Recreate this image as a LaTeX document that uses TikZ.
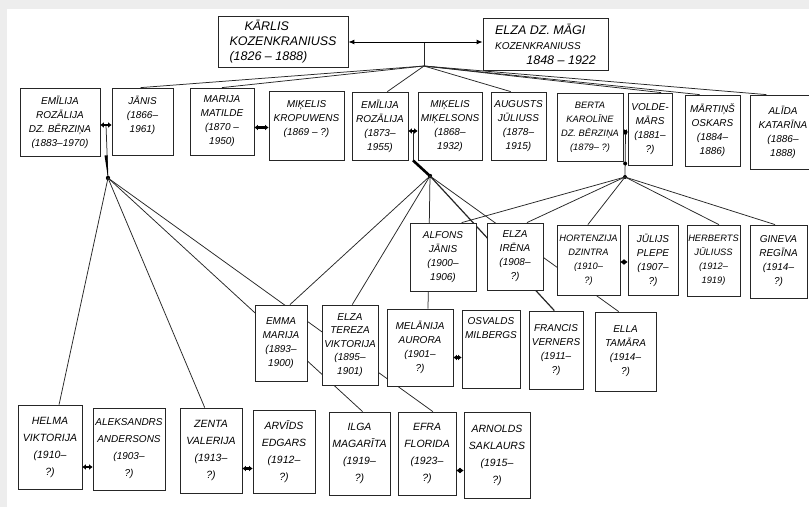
\documentclass[tikz,border=0pt]{standalone}
\usepackage{fontspec}
\setmainfont{Liberation Sans}
\usetikzlibrary{arrows.meta,calc}
\pgfdeclarelayer{paper}
\pgfdeclarelayer{bg}
\pgfsetlayers{paper,bg,main}
\tikzset{
  pbox/.style={draw=black!85, line width=0.8pt, fill=white, inner sep=1pt, align=center,
    font=\itshape\fontsize{10}{14}\selectfont},
  smallf/.style={font=\itshape\fontsize{9.3}{14}\selectfont},
  bigf/.style={font=\itshape\fontsize{10.5}{17}\selectfont},
  kid/.style={draw=black!85, line width=0.75pt},
  marr/.style={line width=2.2pt, {Latex[length=3.5pt,width=6pt]}-{Latex[length=3.5pt,width=6pt]}},
  toparr/.style={line width=0.9pt, {Latex[length=6pt,width=5pt]}-{Latex[length=6pt,width=5pt]}},
  jdot/.style={fill=black},
}
\newcommand\pb[7][]{%
  \node[pbox,minimum width={(#4-#2)*1pt},minimum height={(#5-#3)*1pt},#1] (#6) at ({(#2+#4)/2},{(#3+#5)/2}) {#7};}
\begin{document}
\begin{tikzpicture}[x=1pt,y=-1pt]
\useasboundingbox (0,0) rectangle (809,507);
\begin{pgfonlayer}{paper}
\fill[gray!14] (0,0) rectangle (809,507);
\fill[white] (7,9) rectangle (809,507);
\end{pgfonlayer}

% ---- generation 1
\pb[align=left,font=\itshape\fontsize{12.5}{15}\selectfont]{218}{16}{348}{67}{karlis}{\hspace*{1.2em}KĀRLIS\\KOZENKRANIUSS\\(1826 – 1888)}
\pb[align=left,font=\itshape\fontsize{12.5}{15}\selectfont]{483}{18}{608}{70}{elzam}{ELZA DZ. MĀGI\\{\fontsize{10}{12}\selectfont KOZENKRANIUSS}\\\hspace*{2.5em}1848 – 1922}

% ---- generation 2
\pb{20}{88}{100}{156}{emilijaB}{EMĪLIJA\\ROZĀLIJA\\DZ. BĒRZIŅA\\(1883–1970)}
\pb{112}{88}{173}{155}{janis}{JĀNIS\\(1866–\\1961)\\~}
\pb{190}{88}{254}{155}{marija}{MARIJA\\MATILDE\\(1870 –\\1950)}
\pb{269}{91}{344}{160}{mikelisK}{MIĶELIS\\KROPUWENS\\(1869 – ?)\\~}
\pb{352}{92}{408}{160}{emilijaR}{EMĪLIJA\\ROZĀLIJA\\(1873–\\1955)}
\pb{418}{92}{482}{160}{mikelisM}{MIĶELIS\\MIĶELSONS\\(1868–\\1932)}
\pb{491}{92}{546}{160}{augusts}{AUGUSTS\\JŪLIUSS\\(1878–\\1915)}
\pb[smallf]{557}{93}{623}{161}{berta}{BERTA\\KAROLĪNE\\DZ. BĒRZIŅA\\(1879– ?)}
\pb{628}{93}{672}{165}{voldemars}{VOLDE-\\MĀRS\\(1881–\\?)}
\pb{685}{95}{740}{166}{martins}{MĀRTIŅŠ\\OSKARS\\(1884–\\1886)}
\pb{750}{95}{816}{169}{alida}{ALĪDA\\KATARĪNA\\(1886–\\1888)}

% ---- generation 3 (upper)
\pb{410}{223}{476}{291}{alfons}{ALFONS\\JĀNIS\\(1900–\\1906)}
\pb{487}{223}{543}{290}{elzaI}{ELZA\\IRĒNA\\(1908–\\?)}
\pb[smallf]{557}{225}{620}{295}{hortenzija}{HORTENZIJA\\DZINTRA\\(1910–\\?)}
\pb{628}{225}{678}{295}{julijs}{JŪLIJS\\PLEPE\\(1907–\\?)}
\pb[smallf]{687}{225}{740}{296}{herberts}{HERBERTS\\JŪLIUSS\\(1912–\\1919)}
\pb{750}{225}{807}{298}{gineva}{GINEVA\\REGĪNA\\(1914–\\?)}

% ---- generation 3 (lower)
\pb{255}{305}{307}{381}{emma}{EMMA\\MARIJA\\(1893–\\1900)}
\pb[font=\itshape\fontsize{10}{13.5}\selectfont]{322}{305}{378}{385}{elzaT}{ELZA\\TEREZA\\VIKTORIJA\\(1895–\\1901)}
\pb{387}{309}{453}{386}{melanija}{MELĀNIJA\\AURORA\\(1901–\\?)}
\pb{462}{310}{520}{388}{osvalds}{OSVALDS\\MILBERGS\\~\\~\\~}
\pb{529}{311}{583}{389}{francis}{FRANCIS\\VERNERS\\(1911–\\?)}
\pb{595}{312}{656}{391}{ella}{ELLA\\TAMĀRA\\(1914–\\?)}

% ---- generation 4
\pb[bigf]{18}{405}{82}{489}{helma}{HELMA\\VIKTORIJA\\(1910–\\?)}
\pb[font=\itshape\fontsize{10}{17}\selectfont]{93}{408}{165}{490}{aleks}{ALEKSANDRS\\ANDERSONS\\(1903–\\?)}
\pb[bigf]{180}{408}{242}{493}{zenta}{ZENTA\\VALERIJA\\(1913–\\?)}
\pb[bigf]{253}{410}{315}{493}{arvids}{ARVĪDS\\EDGARS\\(1912–\\?)}
\pb[bigf]{329}{412}{390}{495}{ilga}{ILGA\\MAGARĪTA\\(1919–\\?)}
\pb[bigf]{398}{412}{456}{495}{efra}{EFRA\\FLORIDA\\(1923–\\?)}
\pb[bigf]{464}{412}{530}{498}{arnolds}{ARNOLDS\\SAKLAURS\\(1915–\\?)}

% ---- marriages
\draw[toparr] (karlis.east |- 0,42) -- (elzam.west |- 0,42);
\coordinate (mT) at (424,42);
\coordinate (jT) at (424,66);
\draw[marr] ([yshift=-3pt]emilijaB.east) -- ([yshift=-3pt]emilijaB.east -| janis.west);
\draw[marr] ([yshift=-6pt]marija.east) -- ([yshift=-6pt]marija.east -| mikelisK.west);
\draw[marr] ([yshift=-5pt]emilijaR.east) -- ([yshift=-5pt]emilijaR.east -| mikelisM.west);
\draw[marr] ([yshift=-5pt]berta.east) -- ([yshift=-5pt]berta.east -| voldemars.west);
\draw[marr] ([yshift=-2pt]hortenzija.east) -- ([yshift=-2pt]hortenzija.east -| julijs.west);
\draw[marr] ([yshift=-10pt]melanija.east) -- ([yshift=-10pt]melanija.east -| osvalds.west);
\draw[marr] ([yshift=-20pt]helma.east) -- ([yshift=-20pt]helma.east -| aleks.west);
\draw[marr] ([yshift=-18pt]zenta.east) -- ([yshift=-18pt]zenta.east -| arvids.west);
\draw[marr] ([yshift=-17pt]efra.east) -- ([yshift=-17pt]efra.east -| arnolds.west);

\coordinate (mJ) at ($([yshift=-3pt]emilijaB.east)!0.5!([yshift=-3pt]emilijaB.east -| janis.west)$);
\coordinate (mM) at ($([yshift=-5pt]emilijaR.east)!0.5!([yshift=-5pt]emilijaR.east -| mikelisM.west)$);
\coordinate (mB) at ($([yshift=-5pt]berta.east)!0.5!([yshift=-5pt]berta.east -| voldemars.west)$);
\coordinate (jJ) at (108,178);
\coordinate (jM) at (430,176);
\coordinate (jB) at (625,177);

\begin{pgfonlayer}{bg}
% parents to first generation
\draw[kid] (mT) -- (jT);
\draw[kid] (jT) -- ($(janis.north west)!0.47!(janis.north east)$);
\draw[kid] (jT) -- ($(marija.north west)!0.5!(marija.north east)$);
\draw[kid] (jT) -- ($(emilijaR.north west)!0.63!(emilijaR.north east)$);
\draw[kid] (jT) -- ($(augusts.north west)!0.36!(augusts.north east)$);
\draw[kid] (jT) -- ($(voldemars.north west)!0.75!(voldemars.north east)$);
\draw[kid] (jT) -- ($(martins.north west)!0.27!(martins.north east)$);
\draw[kid] (jT) -- ($(alida.north west)!0.25!(alida.north east)$);

% Janis + Emilija
\draw[kid] (mJ) -- (jJ);
\fill[jdot] (mJ |- janis.south) ++(-1.5,0) -- ++(3,0) -- (jJ) -- cycle;
\fill[jdot] (jJ) circle (2.2pt);
\draw[kid] (jJ) -- ($(helma.north west)!0.64!(helma.north east)$);
\draw[kid] (jJ) -- ($(zenta.north west)!0.4!(zenta.north east)$);
\draw[kid] (jJ) -- ($(ilga.north west)!0.55!(ilga.north east)$);
\draw[kid] (jJ) -- ($(efra.north west)!0.6!(efra.north east)$);

% Emilija R. + Mikelis M.
\draw[kid] (mM) -- (mM |- emilijaR.south);
\draw[line width=2.6pt] (mM |- emilijaR.south) -- (jM);
\fill[jdot] (jM) circle (2.2pt);
\draw[kid] (jM) -- ($(emma.north west)!0.67!(emma.north east)$);
\draw[kid] (jM) -- ($(elzaT.north west)!0.54!(elzaT.north east)$);
\draw[kid] (jM) -- ($(melanija.north west)!0.62!(melanija.north east)$);
\draw[kid,line width=1.2pt] (jM) -- ($(francis.north west)!0.47!(francis.north east)$);
\draw[kid] (jM) -- ($(ella.north west)!0.39!(ella.north east)$);

% Berta + Voldemars
\draw[kid] (mB) -- (jB);
\fill[jdot] (mB) circle (2pt);
\fill[jdot] (jB) circle (2pt);
\fill[jdot] ($(mB)!0.7!(jB)$) circle (2pt);
\draw[kid] (jB) -- ($(alfons.north west)!0.78!(alfons.north east)$);
\draw[kid] (jB) -- ($(elzaI.north west)!0.71!(elzaI.north east)$);
\draw[kid] (jB) -- ($(hortenzija.north west)!0.49!(hortenzija.north east)$);
\draw[kid] (jB) -- ($(herberts.north west)!0.6!(herberts.north east)$);
\draw[kid] (jB) -- ($(gineva.north west)!0.44!(gineva.north east)$);
\end{pgfonlayer}
\end{tikzpicture}
\end{document}
